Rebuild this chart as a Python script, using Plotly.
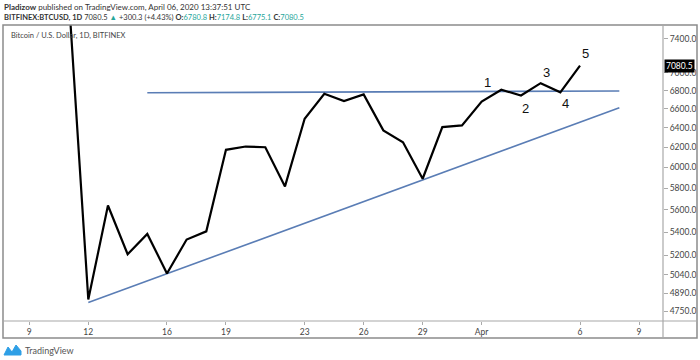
import math
import plotly.graph_objects as go

# ---- data ----
dates = ["2020-03-11", "2020-03-12", "2020-03-13", "2020-03-14", "2020-03-15", "2020-03-16",
         "2020-03-17", "2020-03-18", "2020-03-19", "2020-03-20", "2020-03-21", "2020-03-22",
         "2020-03-23", "2020-03-24", "2020-03-25", "2020-03-26", "2020-03-27", "2020-03-28",
         "2020-03-29", "2020-03-30", "2020-03-31", "2020-04-01", "2020-04-02", "2020-04-03",
         "2020-04-04", "2020-04-05", "2020-04-06"]
closes = [7950, 4840, 5640, 5210, 5385, 5050, 5336, 5408, 6175, 6208, 6201, 5818,
          6495, 6765, 6684, 6757, 6373, 6252, 5891, 6407, 6425, 6680, 6808, 6746,
          6882, 6780, 7080.5]

resist_dates = ["2020-03-15", "2020-04-08"]
resist_vals = [6775, 6795]
support_dates = ["2020-03-12", "2020-04-08"]
support_vals = [4816, 6613]

wave_labels = ["1", "2", "3", "4", "5"]
wave_dates = ["2020-04-01", "2020-04-03", "2020-04-04", "2020-04-05", "2020-04-06"]

x_tickvals = ["2020-03-09", "2020-03-12", "2020-03-16", "2020-03-19", "2020-03-23",
              "2020-03-26", "2020-03-29", "2020-04-01", "2020-04-06", "2020-04-09"]
x_ticktext = ["9", "12", "16", "19", "23", "26", "29", "Apr", "6", "9"]
y_tickvals = [4750, 4890, 5040, 5200, 5400, 5600, 5800, 6000, 6200, 6400, 6600, 6800, 7000, 7400]
y_ticktext = [f"{v:.1f}" for v in y_tickvals]
last_price = 7080.5

# ---- layout helpers (pixel -> paper) ----
L, R, T, B = 3, 663, 25, 321
def px(p):
    return (p - L) / (R - L)
def py(p):
    return (B - p) / (B - T)

FONT = "Lato"
BLUE = "#5a7db5"
GREEN = "#26a69a"

fig = go.Figure()
fig.add_trace(go.Scatter(x=resist_dates, y=resist_vals, mode="lines",
                         line=dict(color=BLUE, width=1.6), hoverinfo="skip"))
fig.add_trace(go.Scatter(x=support_dates, y=support_vals, mode="lines",
                         line=dict(color=BLUE, width=1.6), hoverinfo="skip"))
fig.add_trace(go.Scatter(x=dates, y=closes, mode="lines",
                         line=dict(color="black", width=2.2)))

annotations = []
shifts = [(6, 19), (5, -13), (6, 11), (5, -11), (5, 12)]
for lab, d, (xs, ys) in zip(wave_labels, wave_dates, shifts):
    annotations.append(dict(x=d, y=math.log10(closes[dates.index(d)]),
                            text=lab, showarrow=False, xshift=xs, yshift=ys,
                            font=dict(family="Liberation Sans", size=13, color="#111")))

annotations += [
    dict(xref="paper", yref="paper", x=px(2), y=py(7), xanchor="left", yanchor="middle",
         showarrow=False, font=dict(family=FONT, size=8, color="#333"),
         text="<b>Pladizow</b> published on TradingView.com, April 06, 2020 13:37:51 UTC"),
    dict(xref="paper", yref="paper", x=px(2), y=py(17.5), xanchor="left", yanchor="middle",
         showarrow=False, font=dict(family=FONT, size=7.5, color="#333"),
         text=(f"<b>BITFINEX:BTCUSD, 1D</b> 7080.5 <span style='color:{GREEN}'>▲</span> +300.3 (+4.43%) "
               f"<b>O:</b><span style='color:{GREEN}'>6780.8</span> "
               f"<b>H:</b><span style='color:{GREEN}'>7174.8</span> "
               f"<b>L:</b><span style='color:{GREEN}'>6775.1</span> "
               f"<b>C:</b><span style='color:{GREEN}'>7080.5</span>")),
    dict(xref="paper", yref="paper", x=px(9), y=py(35.5), xanchor="left", yanchor="middle",
         showarrow=False, font=dict(family=FONT, size=7.5, color="#444"),
         text="Bitcoin / U.S. Dollar, 1D, BITFINEX"),
    dict(xref="paper", yref="y", x=1, y=math.log10(last_price), xanchor="left", yanchor="middle",
         showarrow=False, xshift=1, text="7080.5", bgcolor="black", borderpad=1,
         font=dict(family=FONT, size=8.5, color="white")),
    dict(xref="paper", yref="paper", x=px(23), y=py(350), xanchor="left", yanchor="middle",
         showarrow=False, font=dict(family=FONT, size=9, color="#555"), text="TradingView"),
]

shapes = [
    dict(type="rect", xref="paper", yref="paper", x0=px(3), x1=px(697), y0=py(338), y1=py(25),
         line=dict(color="#8c8c8c", width=1.5), layer="above"),
    dict(type="line", xref="paper", yref="paper", x0=1, x1=1, y0=py(338), y1=1,
         line=dict(color="#a8a8a8", width=1.2), layer="above"),
    dict(type="line", xref="paper", yref="paper", x0=0, x1=px(697), y0=0, y1=0,
         line=dict(color="#a8a8a8", width=1.2), layer="above"),
    dict(type="path", xref="paper", yref="paper",
         path=(f"M {px(4)},{py(355)} L {px(8)},{py(347)} L {px(12)},{py(352)} "
               f"L {px(16)},{py(345)} L {px(21)},{py(351)} L {px(21)},{py(355)} Z"),
         fillcolor="#2e9fe6", line=dict(color="#2e9fe6", width=1)),
]

fig.update_layout(
    width=700, height=360,
    margin=dict(l=L, r=700 - R, t=T, b=360 - B),
    paper_bgcolor="white", plot_bgcolor="white",
    showlegend=False,
    annotations=annotations,
    shapes=shapes,
    xaxis=dict(type="date", range=["2020-03-07 15:55", "2020-04-10 05:17"],
               tickvals=x_tickvals, ticktext=x_ticktext, showgrid=False, zeroline=False,
               ticks="outside", ticklen=3, tickcolor="#aaa", showline=False,
               tickfont=dict(family=FONT, size=8.5, color="#444")),
    yaxis=dict(type="log", side="right", range=[math.log10(4674), math.log10(7565)],
               tickvals=y_tickvals, ticktext=y_ticktext, showgrid=False, zeroline=False,
               ticks="outside", ticklen=4, tickcolor="#aaa", showline=False,
               tickfont=dict(family=FONT, size=8.5, color="#444")),
)

fig.write_html("out.html", config={"displayModeBar": False},
               post_script="document.body.style.margin='0';document.body.style.padding='0';")
